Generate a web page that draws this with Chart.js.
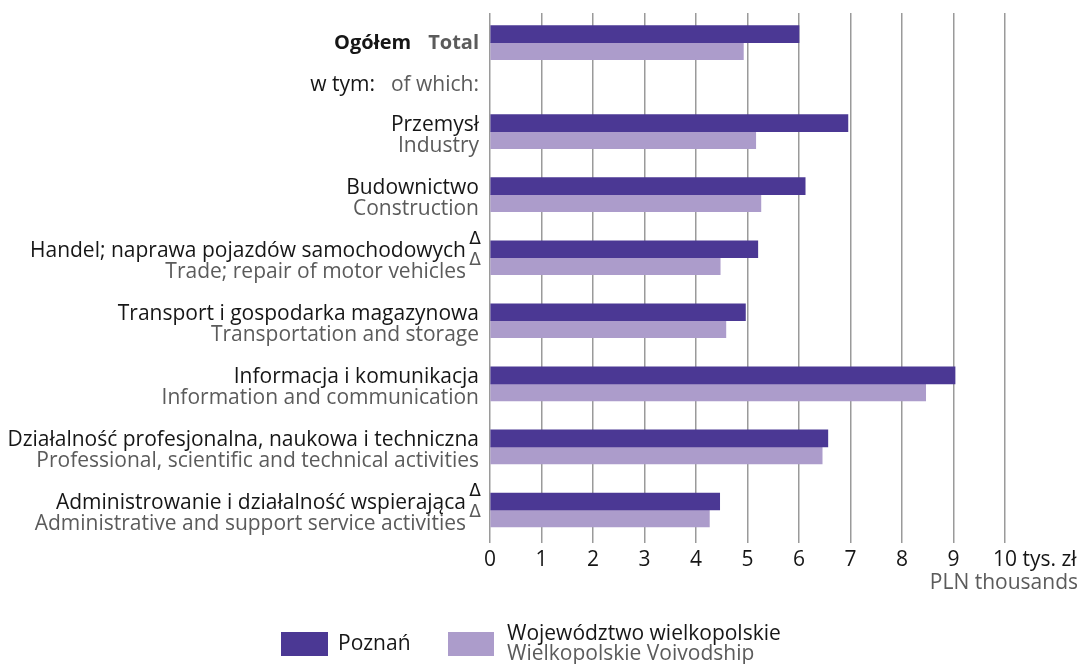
<!DOCTYPE html>
<html lang="pl">
<head>
<meta charset="utf-8">
<title>Wynagrodzenia – Poznań i województwo wielkopolskie</title>
<script src="https://cdn.jsdelivr.net/npm/chart.js@4"></script>
<style>
  html, body { margin: 0; padding: 0; background: #fff; }
</style>
</head>
<body>
<canvas id="wagesChart" width="1081" height="664"></canvas>
<script>
// Sekcje (PL / EN)
const categoriesPl = [
    'Ogółem',
    'Przemysł',
    'Budownictwo',
    'Handel; naprawa pojazdów samochodowych',
    'Transport i gospodarka magazynowa',
    'Informacja i komunikacja',
    'Działalność profesjonalna, naukowa i techniczna',
    'Administrowanie i działalność wspierająca'
];
const categoriesEn = [
    'Total',
    'Industry',
    'Construction',
    'Trade; repair of motor vehicles',
    'Transportation and storage',
    'Information and communication',
    'Professional, scientific and technical activities',
    'Administrative and support service activities'
];
const footnoted = [false, false, false, true, false, false, false, true];

// tys. zł
const poznan = [6.00, 6.95, 6.12, 5.20, 4.96, 9.03, 6.56, 4.46];
const wielkopolska = [4.92, 5.16, 5.26, 4.47, 4.58, 8.46, 6.45, 4.26];

const xTicks = [0, 1, 2, 3, 4, 5, 6, 7, 8, 9, 10];

const FONT = '"Open Sans"';
const FS = 21;
const BLACK = '#161616';
const GREY = '#5b5b5b';
const DARK = '#4b3894';
const LIGHT = '#ac9ccb';

// wiersz "w tym:" zajmuje dodatkowe miejsce pod "Ogółem"
const rowPos = categoriesPl.map((_, i) => i === 0 ? 0 : i + 0.41);
const subRowPos = 0.65;

function font(size, weight) {
    return (weight || 'normal') + ' ' + size + 'px ' + FONT;
}

const labelPlugin = {
    id: 'rowLabels',
    afterDraw(chart) {
        const ctx = chart.ctx;
        const ys = chart.scales.y;
        const xs = chart.scales.x;
        const right = chart.chartArea.left - 11;
        ctx.save();
        ctx.textAlign = 'right';
        ctx.textBaseline = 'middle';

        // Ogółem / Total
        let cy = ys.getPixelForValue(rowPos[0]) + 1;
        ctx.font = font(FS - 1, 'bold');
        ctx.fillStyle = GREY;
        ctx.fillText(categoriesEn[0], right, cy);
        const wTotal = ctx.measureText(categoriesEn[0]).width;
        ctx.fillStyle = BLACK;
        ctx.fillText(categoriesPl[0], right - wTotal - 17, cy);

        // w tym: / of which:
        cy = ys.getPixelForValue(subRowPos) + 1;
        ctx.font = font(FS);
        ctx.fillStyle = GREY;
        ctx.fillText('of which:', right, cy);
        const wOf = ctx.measureText('of which:').width;
        ctx.fillStyle = BLACK;
        ctx.fillText('w tym:', right - wOf - 16, cy);

        // sekcje
        for (let i = 1; i < categoriesPl.length; i++) {
            cy = ys.getPixelForValue(rowPos[i]);
            const shift = footnoted[i] ? 13 : 0;
            ctx.font = font(FS);
            ctx.fillStyle = BLACK;
            ctx.fillText(categoriesPl[i], right - shift, cy - 7);
            ctx.fillStyle = GREY;
            ctx.fillText(categoriesEn[i], right - shift, cy + 14);
            if (footnoted[i]) {
                ctx.font = '17px "DejaVu Sans"';
                ctx.fillStyle = BLACK;
                ctx.fillText('\u0394', right + 2, cy - 18);
                ctx.fillStyle = GREY;
                ctx.fillText('\u0394', right + 2, cy + 3);
            }
        }

        // jednostka osi
        const x10 = xs.getPixelForValue(10);
        const tickY = chart.chartArea.bottom + 17;
        ctx.textAlign = 'left';
        ctx.font = font(FS);
        ctx.fillStyle = BLACK;
        const w10 = ctx.measureText('10').width;
        ctx.fillText('10 tys. zł', x10 - w10 / 2, tickY);
        ctx.textAlign = 'right';
        ctx.fillStyle = GREY;
        ctx.fillText('PLN thousands', 1078, tickY + 23);

        // legenda
        ctx.textAlign = 'left';
        ctx.fillStyle = DARK;
        ctx.fillRect(281, 632, 47, 24);
        ctx.fillStyle = LIGHT;
        ctx.fillRect(448, 632, 46, 24);
        ctx.font = font(FS);
        ctx.fillStyle = BLACK;
        ctx.fillText('Poznań', 338, 644);
        ctx.fillText('Województwo wielkopolskie', 507, 634);
        ctx.fillStyle = GREY;
        ctx.fillText('Wielkopolskie Voivodship', 507, 654);
        ctx.restore();
    }
};

const ctx = document.getElementById('wagesChart').getContext('2d');
const wagesChart = new Chart(ctx, {
    type: 'bar',
    data: {
        datasets: [
            {
                label: 'Poznań',
                data: poznan.map((v, i) => ({ x: v, y: rowPos[i] })),
                backgroundColor: DARK,
                barThickness: 17
            },
            {
                label: 'Województwo wielkopolskie',
                data: wielkopolska.map((v, i) => ({ x: v, y: rowPos[i] })),
                backgroundColor: LIGHT,
                barThickness: 17
            }
        ]
    },
    options: {
        indexAxis: 'y',
        responsive: false,
        animation: false,
        layout: { padding: { left: 490, right: 76, top: 13, bottom: 86 } },
        plugins: {
            legend: { display: false },
            tooltip: { enabled: false }
        },
        scales: {
            x: {
                type: 'linear',
                min: 0,
                max: 10,
                afterBuildTicks: axis => { axis.ticks = xTicks.map(v => ({ value: v })); },
                grid: { color: '#9a9a9a', lineWidth: 1.5, drawTicks: false },
                border: { display: false },
                ticks: {
                    padding: 5,
                    color: BLACK,
                    font: { family: FONT, size: FS },
                    callback: v => v === 10 ? '' : v
                }
            },
            y: {
                type: 'linear',
                reverse: true,
                offset: false,
                min: -0.47,
                max: 7.93,
                display: false
            }
        }
    },
    plugins: [labelPlugin]
});
</script>
</body>
</html>
